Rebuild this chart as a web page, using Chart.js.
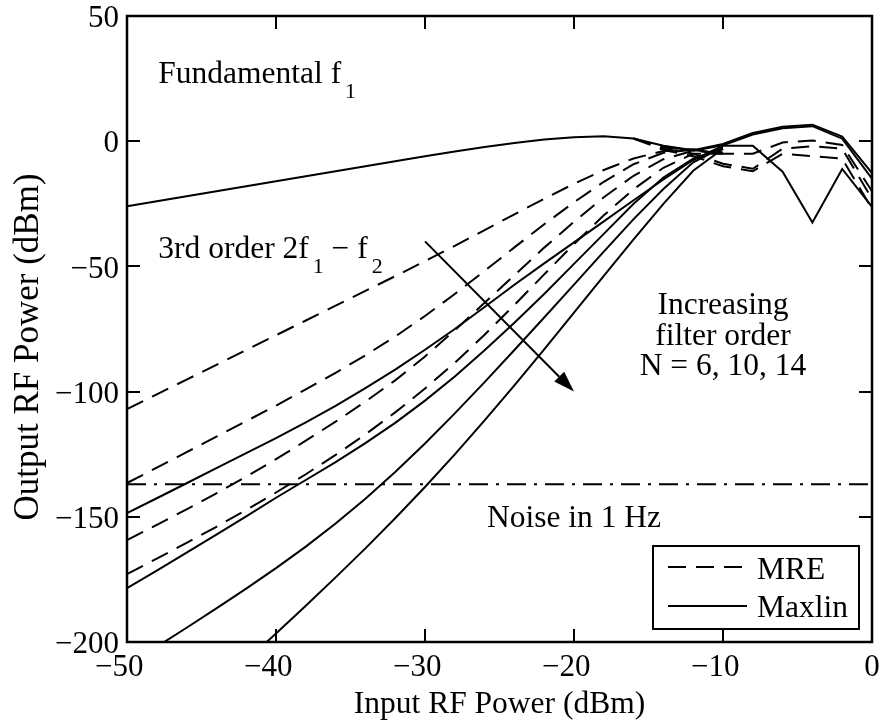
<!DOCTYPE html>
<html>
<head>
<meta charset="utf-8">
<script src="https://cdn.jsdelivr.net/npm/chart.js@4/dist/chart.umd.min.js"></script>
<style>
  html, body { margin: 0; padding: 0; background: #fff; }
  #wrap { width: 884px; height: 723px; }
</style>
</head>
<body>
<div id="wrap"><canvas id="chart" width="884" height="723"></canvas></div>
<script>
// Input drive levels (dBm)
const inputPower = [-50,-48,-46,-44,-42,-40,-38,-36,-34,-32,-30,-28,-26,-24,-22,-20,-18,-16,-14,-12,-10,-8,-6,-4,-2,0];

// Fundamental output, Maxlin model
const fundMaxlin  = [-26,-24,-22,-20,-18,-16,-14,-12,-10,-8,-6,-4.1,-2.3,-0.7,0.7,1.6,2.0,1.1,-1.8,-3.6,-1.1,3.3,5.8,6.6,1.8,-12.7];
const fundMaxlinB = [null,null,null,null,null,null,null,null,null,null,null,null,null,null,null,null,null,null,-2.0,-3.8,-1.6,2.7,5.2,6.0,1.0,-15];
// Fundamental output near compression, MRE model
const fundMreA = [null,null,null,null,null,null,null,null,null,null,null,null,null,null,null,null,null,1.1,-2.5,-3.5,-5,-5,-0.5,0.3,-1.5,-20];
const fundMreB = [null,null,null,null,null,null,null,null,null,null,null,null,null,null,null,null,null,1.1,-3,-5,-9,-11,-3,-2,-3,-23];
const fundMreC = [null,null,null,null,null,null,null,null,null,null,null,null,null,null,null,null,null,1.1,-3.5,-6,-10,-12,-5,-6,-7,-27];

// Third-order product 2f1 - f2, MRE model
const im3MreA = [-107,-101.1,-95.2,-89.3,-83.4,-77.5,-71.6,-65.7,-59.8,-53.9,-47.9,-41.8,-35.5,-29.2,-23,-17,-11.5,-6.9,-3.9,-3.2,-4.5];
const im3MreB = [-136.5,-130.4,-124.2,-118,-111.8,-105.6,-99.1,-92.5,-85.5,-78,-69.8,-61,-51.8,-42.4,-33.2,-24.4,-16.2,-9.2,-4.6,-3.4,-5];
const im3MreC = [-159.3,-153.2,-147,-140.6,-134,-127,-119.6,-112,-104,-95.5,-86,-75.5,-64.5,-53.5,-42.5,-32.2,-22.4,-13.8,-7.2,-3.8,-5];
const im3MreD = [-172.9,-166.7,-160.4,-154,-147.3,-140.3,-133,-125.3,-117.1,-108.3,-98.8,-88.5,-77.3,-65.4,-53.2,-41.1,-29.6,-19.2,-10.6,-5,-5];

// Third-order product 2f1 - f2, Maxlin model
const im3MaxA = [-148.5,-142.6,-136.6,-130.6,-124.6,-118.6,-112.3,-105.7,-98.6,-91.2,-83.3,-75,-66.2,-57.3,-48.8,-40.4,-32,-23.6,-15.3,-7.5,-1.8,-1.8,-12.2,-32.5,-11.1,-26.2];
const im3MaxB = [-178.5,-171.5,-164.3,-157.1,-149.8,-142.4,-135.3,-128.2,-120.6,-112.5,-103.6,-94,-83.5,-72.5,-61,-49,-37,-25,-14.5,-7,-3];
const im3MaxC = [-209.5,-201.9,-194.3,-186.6,-178.7,-170.5,-161.9,-152.7,-142.8,-132.1,-120.7,-108.7,-96.2,-83.4,-70.4,-57.3,-44.1,-31.1,-19.1,-8.4,-2.4];
const im3MaxD = [-250,-239.5,-229,-218.3,-207.5,-196.6,-185.5,-174.2,-162.6,-150.6,-138.1,-125.1,-111.5,-97.5,-83.1,-68.5,-53.8,-39.2,-25,-11.8,-3];

// Noise floor in a 1 Hz bandwidth
const noiseInputs = [-50, 0];
const noiseLevel = [-137, -137];

// Axis ticks
const xTicks = [-50,-40,-30,-20,-10,0];
const yTicks = [-200,-150,-100,-50,0,50];

const FONT = '"Liberation Serif", "Times New Roman", Times, serif';
const DASH = [18, 10];
const DASHDOT = [19, 8, 3, 8];

function pairs(xs, ys) {
  return ys.map((v, i) => ({ x: xs[i], y: v }));
}
function series(label, values, dash) {
  return {
    label, data: pairs(inputPower, values),
    borderColor: '#000', borderWidth: 2, borderDash: dash || [],
    pointRadius: 0, fill: false, tension: 0, spanGaps: false
  };
}
function minus(v) { return String(v).replace('-', '\u2212'); }

const datasets = [
  series('MRE', im3MreA, DASH),
  series('MRE', im3MreB, DASH),
  series('MRE', im3MreC, DASH),
  series('MRE', im3MreD, DASH),
  series('MRE', fundMreA, DASH),
  series('MRE', fundMreB, DASH),
  series('MRE', fundMreC, DASH),
  series('Maxlin', im3MaxA),
  series('Maxlin', im3MaxB),
  series('Maxlin', im3MaxC),
  series('Maxlin', im3MaxD),
  series('Maxlin', fundMaxlinB),
  series('Maxlin', fundMaxlin),
  {
    label: 'Noise', data: pairs(noiseInputs, noiseLevel),
    borderColor: '#000', borderWidth: 2, borderDash: DASHDOT,
    pointRadius: 0, fill: false, tension: 0
  }
];

// Text with subscripts: parts = [[text, isSub], ...]
function richText(ctx, parts, x, y, size, subSize) {
  let cx = x;
  parts.forEach(([t, sub]) => {
    ctx.font = (sub ? subSize : size) + 'px ' + FONT;
    if (sub) cx += 4;
    ctx.fillText(t, cx, y + (sub ? 14.5 : 0));
    cx += ctx.measureText(t).width;
  });
}

const decorations = {
  id: 'decorations',
  afterDraw(chart) {
    const { ctx, chartArea: a, scales: { x, y } } = chart;
    ctx.save();
    ctx.strokeStyle = '#000';
    ctx.fillStyle = '#000';
    ctx.setLineDash([]);

    // inward tick marks on all four sides
    ctx.lineWidth = 2;
    const tl = 13;
    ctx.beginPath();
    xTicks.forEach(v => {
      const px = Math.round(x.getPixelForValue(v));
      ctx.moveTo(px, a.bottom); ctx.lineTo(px, a.bottom - tl);
      ctx.moveTo(px, a.top); ctx.lineTo(px, a.top + tl);
    });
    yTicks.forEach(v => {
      const py = Math.round(y.getPixelForValue(v));
      ctx.moveTo(a.left, py); ctx.lineTo(a.left + tl, py);
      ctx.moveTo(a.right, py); ctx.lineTo(a.right - tl, py);
    });
    ctx.stroke();

    // plot frame
    ctx.lineWidth = 2.5;
    ctx.strokeRect(a.left, a.top, a.right - a.left, a.bottom - a.top);

    // y axis title
    ctx.save();
    ctx.translate(38, 347);
    ctx.rotate(-Math.PI / 2);
    ctx.textAlign = 'center';
    ctx.textBaseline = 'alphabetic';
    ctx.font = '35px ' + FONT;
    ctx.fillText('Output RF Power (dBm)', 0, 0);
    ctx.restore();

    // annotations
    ctx.textBaseline = 'alphabetic';
    ctx.textAlign = 'left';
    richText(ctx, [['Fundamental f', false], ['1', true]],
      x.getPixelForValue(-47.9), y.getPixelForValue(23.1), 31.5, 22);
    richText(ctx, [['3rd order 2f', false], ['1', true], [' \u2212 f', false], ['2', true]],
      x.getPixelForValue(-47.9), y.getPixelForValue(-46.8), 31.5, 22);

    ctx.textAlign = 'center';
    ctx.font = '31.5px ' + FONT;
    const cx = x.getPixelForValue(-10);
    ctx.fillText('Increasing', cx, y.getPixelForValue(-69.0));
    ctx.fillText('filter order', cx, y.getPixelForValue(-81.4));
    ctx.fillText('N = 6, 10, 14', cx, y.getPixelForValue(-93.4));
    ctx.fillText('Noise in 1 Hz', x.getPixelForValue(-20), y.getPixelForValue(-154.1));

    // arrow showing the trend with filter order
    const x0 = x.getPixelForValue(-30), y0 = y.getPixelForValue(-40);
    const x1 = x.getPixelForValue(-20), y1 = y.getPixelForValue(-100);
    const ang = Math.atan2(y1 - y0, x1 - x0);
    const hl = 21, hw = 7;
    ctx.lineWidth = 2;
    ctx.beginPath();
    ctx.moveTo(x0, y0);
    ctx.lineTo(x1 - hl * Math.cos(ang), y1 - hl * Math.sin(ang));
    ctx.stroke();
    ctx.beginPath();
    ctx.moveTo(x1, y1);
    ctx.lineTo(x1 - hl * Math.cos(ang) + hw * Math.sin(ang), y1 - hl * Math.sin(ang) - hw * Math.cos(ang));
    ctx.lineTo(x1 - hl * Math.cos(ang) - hw * Math.sin(ang), y1 - hl * Math.sin(ang) + hw * Math.cos(ang));
    ctx.closePath();
    ctx.fill();

    // legend
    const lx = a.right - 219, ly = a.bottom - 96, lw = 206, lh = 83;
    ctx.fillStyle = '#fff';
    ctx.fillRect(lx, ly, lw, lh);
    ctx.strokeStyle = '#000';
    ctx.lineWidth = 2;
    ctx.strokeRect(lx, ly, lw, lh);
    ctx.fillStyle = '#000';
    ctx.beginPath();
    ctx.setLineDash(DASH);
    ctx.moveTo(lx + 15, ly + 21); ctx.lineTo(lx + 94, ly + 21);
    ctx.stroke();
    ctx.setLineDash([]);
    ctx.beginPath();
    ctx.moveTo(lx + 15, ly + 60); ctx.lineTo(lx + 94, ly + 60);
    ctx.stroke();
    ctx.textAlign = 'left';
    ctx.font = '31.5px ' + FONT;
    ctx.fillText('MRE', lx + 104, ly + 33);
    ctx.fillText('Maxlin', lx + 104, ly + 71);
    ctx.restore();
  }
};

new Chart(document.getElementById('chart'), {
  type: 'line',
  data: { datasets },
  plugins: [decorations],
  options: {
    responsive: false,
    animation: false,
    devicePixelRatio: 1,
    layout: { padding: { left: 0, right: 12, top: 16, bottom: 0 } },
    plugins: { legend: { display: false }, tooltip: { enabled: false } },
    scales: {
      x: {
        type: 'linear', min: -50, max: 0,
        afterFit(s) { s.height = 81; s.paddingLeft = 0; s.paddingRight = 0; },
        afterBuildTicks(s) { s.ticks = xTicks.map(v => ({ value: v })); },
        grid: { display: false, drawTicks: false },
        border: { display: false },
        ticks: { padding: 7, color: '#000', maxRotation: 0, autoSkip: false,
                 font: { family: FONT, size: 31 },
                 // digits sit centred on the tick, the minus hangs to the left
                 callback: v => v < 0 ? minus(v) + '\u2002' : minus(v) },
        title: { display: true, text: 'Input RF Power (dBm)', color: '#000',
                 font: { family: FONT, size: 31.5 }, padding: { top: 0, bottom: -1 } }
      },
      y: {
        type: 'linear', min: -200, max: 50,
        afterFit(s) { s.width = 127; s.paddingTop = 0; s.paddingBottom = 0; },
        afterBuildTicks(s) { s.ticks = yTicks.map(v => ({ value: v })); },
        grid: { display: false, drawTicks: false },
        border: { display: false },
        ticks: { padding: 8, labelOffset: 3, color: '#000', autoSkip: false,
                 font: { family: FONT, size: 31 }, callback: v => minus(v) },
        title: { display: false }
      }
    }
  }
});
</script>
</body>
</html>
